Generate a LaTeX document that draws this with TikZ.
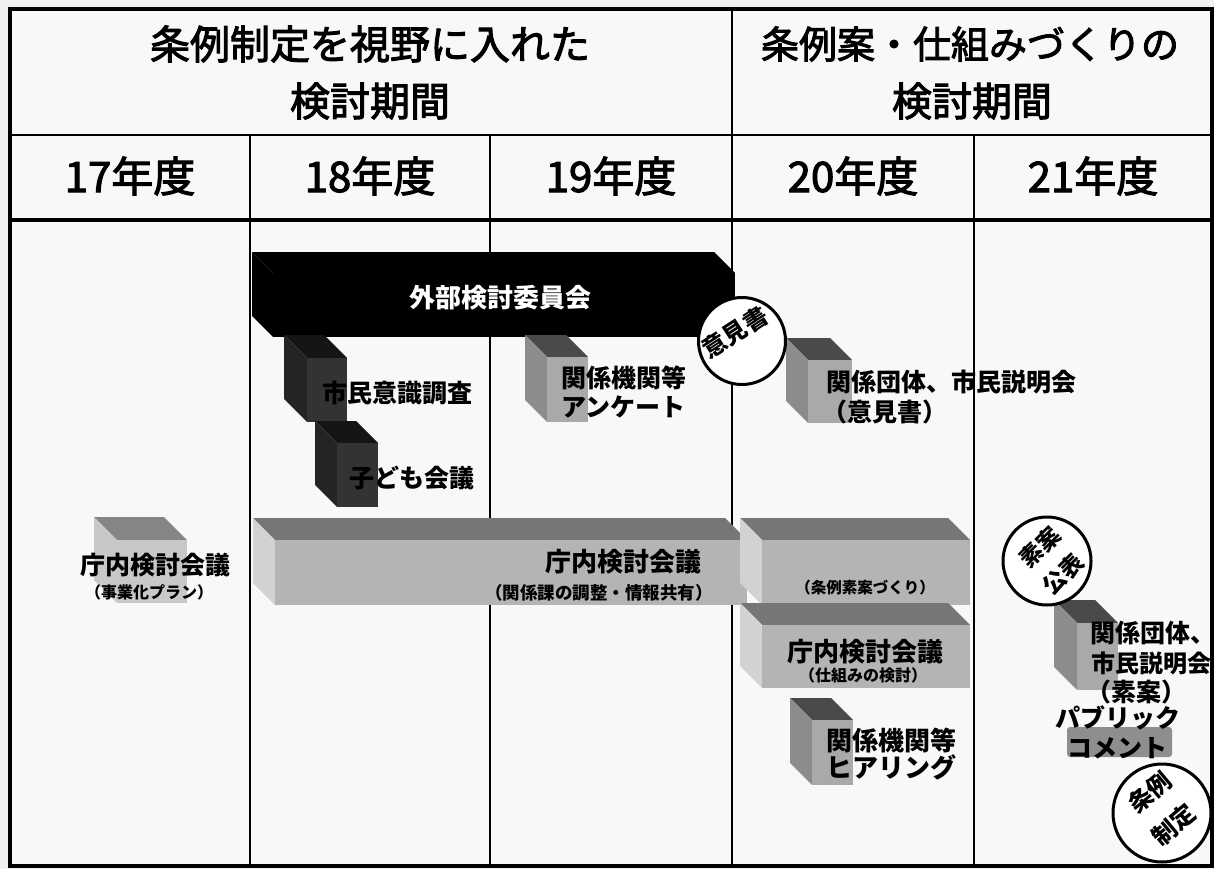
\documentclass[tikz,border=0pt]{standalone}
\usepackage{fontspec}
\newfontfamily\jp{Noto Sans CJK JP}
\newfontfamily\jpm[FakeBold=2.5]{Noto Sans CJK JP}
\definecolor{paper}{HTML}{F0F0F0}
\definecolor{ctop}{HTML}{4A4A4A}
\definecolor{cleft}{HTML}{8C8C8C}
\definecolor{cfront}{HTML}{A9A9A9}
\definecolor{dtop}{HTML}{151515}
\definecolor{dleft}{HTML}{242424}
\definecolor{dfront}{HTML}{333333}
\definecolor{btop}{HTML}{767676}
\definecolor{bleft}{HTML}{D2D2D2}
\definecolor{bfront}{HTML}{B4B4B4}
\definecolor{stop}{HTML}{858585}
\definecolor{sfront}{HTML}{C8C8C8}
\definecolor{pgray}{HTML}{8E8E8E}
\newcommand{\drawslab}[8]{%
  \fill[#6] (#1,#2) -- ++(-#5,-#5) -- ({#3-#5},{#2-#5}) -- (#3,#2) -- cycle;
  \fill[#7] (#1,#2) -- ++(-#5,-#5) -- ({#1-#5},{#4-#5}) -- (#1,#4) -- cycle;
  \fill[#8] (#1,#2) rectangle (#3,#4);
}
\tikzset{
  hdr/.style={font=\jpm\fontsize{40}{44}\selectfont, inner sep=0pt},
  yr/.style={font=\jpm\fontsize{42}{46}\selectfont, inner sep=0pt},
  lbl/.style={font=\jp\bfseries\fontsize{25}{29}\selectfont, inner sep=0pt},
  sml/.style={font=\jp\bfseries\fontsize{16}{19}\selectfont, inner sep=0pt},
  stamp/.style={circle, draw=black, line width=3pt, fill=white, inner sep=0pt},
  stamptxt/.style={font=\jp\bfseries\fontsize{23}{27}\selectfont, inner sep=0pt},
  thinln/.style={line width=1.6pt},
  midln/.style={line width=2.4pt},
  thickln/.style={line width=3.6pt},
}
\begin{document}
\begin{tikzpicture}[x=1pt,y=-1pt]
\useasboundingbox (0,0) rectangle (1214,869);
\fill[paper] (0,0) rectangle (1214,869);
\fill[white!55!paper] (10,9) rectangle (1212,866);

% grid lines
\draw[thinln] (10,135) -- (1212,135);
\draw[thickln] (10,220) -- (1212,220);
\draw[thinln] (250,135) -- (250,866);
\draw[thinln] (490,135) -- (490,866);
\draw[midln] (732,9) -- (732,866);
\draw[thinln] (974,135) -- (974,866);
\draw[thickln] (10,9) rectangle (1212,866);

% external committee bar (black)
\drawslab{273}{273}{735}{337}{21}{black}{black}{black}
% dark boxes
\drawslab{307}{358}{347}{422}{23}{dtop}{dleft}{dfront}
\drawslab{337}{443}{378}{507}{22}{dtop}{dleft}{dfront}
% grey cubes
\drawslab{547}{357}{588}{422}{22}{ctop}{cleft}{cfront}
\drawslab{808}{360}{852}{423}{22}{ctop}{cleft}{cfront}
\drawslab{812}{720}{853}{785}{22}{ctop}{cleft}{cfront}
\drawslab{1077}{623}{1118}{690}{23}{ctop}{cleft}{cfront}
% long bars
\drawslab{117}{540}{187}{603}{23}{stop}{sfront}{sfront}
\drawslab{275}{540}{747}{605}{22}{btop}{bleft}{bfront}
\drawslab{762}{540}{970}{605}{22}{btop}{bleft}{bfront}
\drawslab{762}{625}{970}{688}{22}{btop}{bleft}{bfront}
% public comment box
\fill[pgray, rounded corners=3pt] (1067,727) rectangle (1172,757);

% header texts
\node[hdr] (h1) at (370,44) {条例制定を視野に入れた};
\node[hdr] (h2) at (370,101) {検討期間};
\node[hdr, font=\jpm\fontsize{38}{42}\selectfont] (h3) at (970,44) {条例案・仕組みづくりの};
\node[hdr] (h4) at (972,101) {検討期間};
\node[yr] (y17) at (130,176) {17年度};
\node[yr] (y18) at (370,176) {18年度};
\node[yr] (y19) at (611,176) {19年度};
\node[yr] (y20) at (853,176) {20年度};
\node[yr] (y21) at (1093,176) {21年度};

% labels
\node[lbl, text=white, font=\jp\bfseries\fontsize{26}{30}\selectfont] (gai) at (500,298) {外部検討委員会};
\node[lbl, anchor=west] (shimin) at (322,393) {市民意識調査};
\node[lbl, anchor=west] (kodomo) at (349,478) {子ども会議};
\node[lbl, anchor=west] (kan1) at (561,378) {関係機関等};
\node[lbl, anchor=west] (kan2) at (561,407) {アンケート};
\node[lbl, anchor=west] (dan1) at (826,382) {関係団体、市民説明会};
\node[lbl, anchor=west] (dan2) at (822,412) {（意見書）};
\node[lbl] (cho1) at (155,565) {庁内検討会議};
\node[sml] (cho1s) at (149,592) {（事業化プラン）};
\node[lbl, font=\jp\bfseries\fontsize{26}{30}\selectfont] (cho2) at (623,562) {庁内検討会議};
\node[sml, font=\jp\bfseries\fontsize{17.5}{20}\selectfont] (cho2s) at (599,593) {（関係課の調整・情報共有）};
\node[sml, font=\jp\bfseries\fontsize{15.5}{18}\selectfont] (sobo) at (865,588) {（条例素案づくり）};
\node[lbl, font=\jp\bfseries\fontsize{26}{30}\selectfont] (cho3) at (865,652) {庁内検討会議};
\node[sml] (cho3s) at (863,675) {（仕組みの検討）};
\node[lbl, anchor=west, font=\jp\bfseries\fontsize{26}{30}\selectfont] (hia1) at (826,740) {関係機関等};
\node[lbl, anchor=west, font=\jp\bfseries\fontsize{26}{30}\selectfont] (hia2) at (826,767) {ヒアリング};
\node[lbl, anchor=west] (d21a) at (1090,633) {関係団体、};
\node[lbl, anchor=west, font=\jp\bfseries\fontsize{24}{28}\selectfont] (d21b) at (1091,663) {市民説明会};
\node[lbl, anchor=west] (d21c) at (1086,692) {（素案）};
\node[lbl] (pub1) at (1118,718) {パブリック};
\node[lbl] (pub2) at (1117,748) {コメント};

% stamps
\node[stamp, minimum size=87pt] (iken) at (742,341) {};
\node[stamptxt, rotate=33, font=\jp\bfseries\fontsize{24}{28}\selectfont] (ikent) at (735,332) {意見書};
\node[stamp, minimum size=88pt] (soan) at (1047,561) {};
\node[stamptxt, rotate=45] (soan1) at (1040,547) {素案};
\node[stamptxt, rotate=45] (soan2) at (1063,574) {公表};
\node[stamp, minimum size=98pt] (jorei) at (1162,813) {};
\node[stamptxt, rotate=40, font=\jp\bfseries\fontsize{24}{28}\selectfont] (jorei1) at (1150,792) {条例};
\node[stamptxt, rotate=40, font=\jp\bfseries\fontsize{24}{28}\selectfont] (jorei2) at (1174,825) {制定};
\end{tikzpicture}
\end{document}
